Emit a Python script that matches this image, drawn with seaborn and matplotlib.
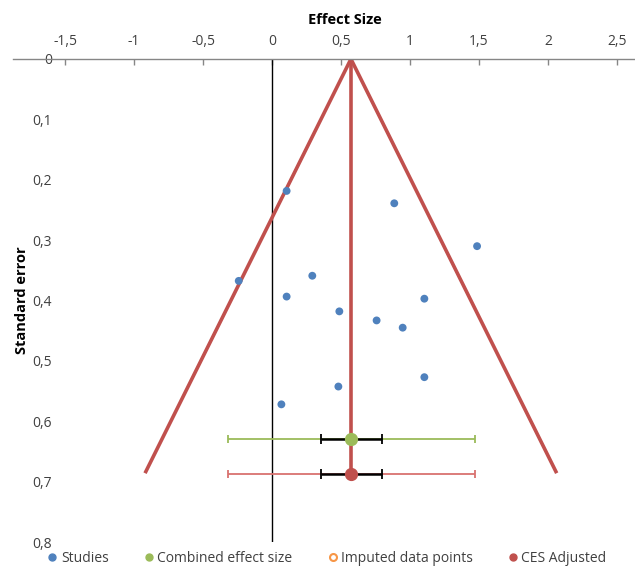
import matplotlib
matplotlib.use("Agg")
import matplotlib.pyplot as plt
import seaborn as sns
import pandas as pd
from matplotlib.lines import Line2D
from matplotlib.ticker import FuncFormatter

# ---- data ----
study_es = [0.106, 0.886, 1.486, -0.241, 0.292, 0.106, 0.488, 1.104, 0.758, 0.947, 1.104, 0.481, 0.068]
study_se = [0.2185, 0.239, 0.310, 0.3675, 0.359, 0.3935, 0.418, 0.397, 0.433, 0.445, 0.527, 0.5425, 0.572]

ces_es = 0.572
ces_se = 0.629
ces_adj_es = 0.572
ces_adj_se = 0.687
pi_low, pi_high = -0.32, 1.47      # wide interval
ci_low, ci_high = 0.353, 0.795     # inner interval

funnel_x = [-0.92, 0.572, 2.063]
funnel_y = [0.686, 0.0, 0.686]

x_ticks = [-1.5, -1, -0.5, 0, 0.5, 1, 1.5, 2, 2.5]
y_ticks = [0, 0.1, 0.2, 0.3, 0.4, 0.5, 0.6, 0.7, 0.8]

BLUE = "#4F81BD"
GREEN = "#9BBB59"
RED = "#C0504D"
ORANGE = "#F79646"

sns.set_style("white")
plt.rcParams["font.family"] = ["Open Sans", "DejaVu Sans"]

fig = plt.figure(figsize=(6.35, 5.67), dpi=100)
W, H = 635, 567
left, right, top, bottom = 13, 635, 59, 542
ax = fig.add_axes([left / W, (H - bottom) / H, (right - left) / W, (bottom - top) / H])

x0 = -1.5 - (65 - left) / 138.0
x1 = 2.5 + (right - 617) / 138.0
ax.set_xlim(x0, x1)
ax.set_ylim(0.8, 0.0)

# zero line
ax.axvline(0, color="black", lw=1.0, zorder=1)

# funnel
ax.plot(funnel_x, funnel_y, color=RED, lw=2.6, zorder=2, solid_capstyle="butt")
ax.plot([ces_adj_es, ces_adj_es], [0, ces_adj_se], color=RED, lw=2.6, zorder=2)

# studies
df = pd.DataFrame({"es": study_es, "se": study_se})
sns.scatterplot(data=df, x="es", y="se", ax=ax, color=BLUE, s=32, edgecolor="none", zorder=4, legend=False)

# combined effect size
ax.errorbar([ces_es], [ces_se], xerr=[[ces_es - pi_low], [pi_high - ces_es]], fmt="none",
            ecolor=GREEN, elinewidth=1.3, capsize=3, capthick=1.3, zorder=3)
ax.errorbar([ces_es], [ces_se], xerr=[[ces_es - ci_low], [ci_high - ces_es]], fmt="none",
            ecolor="black", elinewidth=1.8, capsize=3.5, capthick=1.3, zorder=3)
ax.plot([ces_es], [ces_se], "o", color=GREEN, ms=8.5, zorder=5)

# adjusted
ax.errorbar([ces_adj_es], [ces_adj_se], xerr=[[ces_adj_es - pi_low], [pi_high - ces_adj_es]], fmt="none",
            ecolor="#D9726F", elinewidth=1.3, capsize=3, capthick=1.3, zorder=3)
ax.errorbar([ces_adj_es], [ces_adj_se], xerr=[[ces_adj_es - ci_low], [ci_high - ces_adj_es]], fmt="none",
            ecolor="black", elinewidth=1.8, capsize=3.5, capthick=1.3, zorder=3)
ax.plot([ces_adj_es], [ces_adj_se], "o", color=RED, ms=8.5, zorder=5)

# axes styling
def fmt(v, pos):
    s = ("%g" % v).replace(".", ",")
    return s

for s in ["left", "right", "bottom"]:
    ax.spines[s].set_visible(False)
ax.spines["top"].set_color("#868686")
ax.spines["top"].set_linewidth(1.0)

ax.xaxis.tick_top()
ax.xaxis.set_label_position("top")
ax.set_xticks(x_ticks)
ax.xaxis.set_major_formatter(FuncFormatter(fmt))
ax.tick_params(axis="x", direction="in", length=4, width=1, color="#868686", pad=7,
               labelsize=10, labelcolor="#404040", top=True, bottom=False)

ax.set_yticks(y_ticks)
ax.yaxis.set_major_formatter(FuncFormatter(fmt))
ax.tick_params(axis="y", length=0, pad=-28, labelsize=10, labelcolor="#404040", left=True)

ax.set_xlabel("Effect Size", fontsize=10.5, fontweight="bold", color="black")
ax.xaxis.set_label_coords((345 - left) / (right - left), 1 + (59 - 13) / (bottom - top))
ax.xaxis.label.set_va("top")
ax.set_ylabel("Standard error", fontsize=10.5, fontweight="bold", color="black")
ax.yaxis.set_label_coords((29 - left) / (right - left), 0.5)

handles = [
    Line2D([], [], ls="none", marker="o", color=BLUE, ms=5),
    Line2D([], [], ls="none", marker="o", color=GREEN, ms=5),
    Line2D([], [], ls="none", marker="o", markerfacecolor="white", markeredgecolor=ORANGE, mew=1.5, ms=5),
    Line2D([], [], ls="none", marker="o", color=RED, ms=5),
]
labels = ["Studies", "Combined effect size", "Imputed data points", "CES Adjusted"]
fig.legend(handles, labels, loc="center", bbox_to_anchor=(326 / W, 1 - 558 / H), ncol=4,
           frameon=False, fontsize=10, handletextpad=0.1, columnspacing=2.4, handlelength=1.0,
           labelcolor="#404040")

fig.savefig("out.png", dpi=100)
